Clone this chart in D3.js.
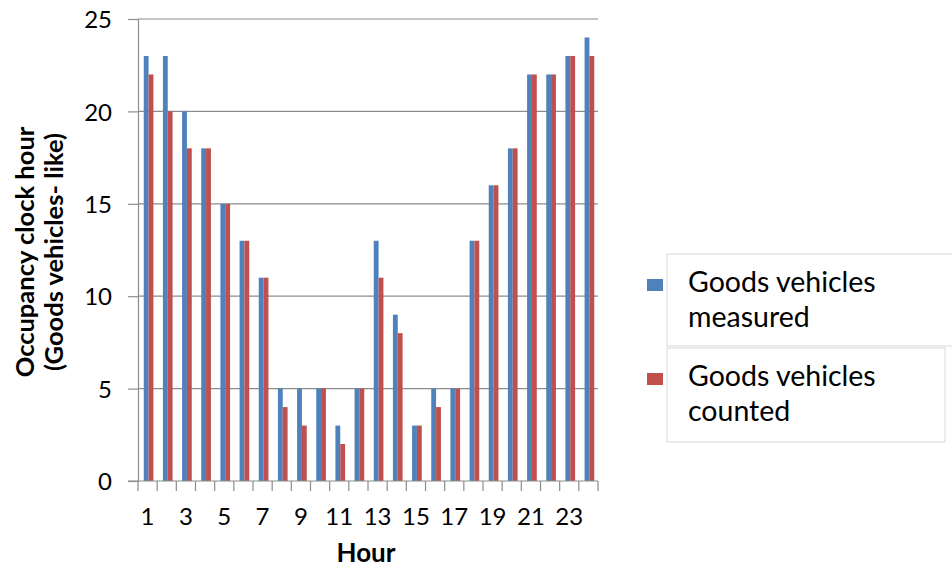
<!DOCTYPE html>
<html>
<head>
<meta charset="utf-8">
<script src="https://cdn.jsdelivr.net/npm/d3@7"></script>
<style>
  html, body { margin: 0; padding: 0; background: #fff; }
  svg { display: block; }
  text { font-family: Lato, "Liberation Sans", sans-serif; fill: #000; }
</style>
</head>
<body>
<svg id="chart" width="952" height="569"></svg>
<script>
// Hourly occupancy of goods-vehicle-like traffic
const hours = d3.range(1, 25);
const measured = [23, 23, 20, 18, 15, 13, 11, 5, 5, 5, 3, 5, 13, 9, 3, 5, 5, 13, 16, 18, 22, 22, 23, 24];
const counted  = [22, 20, 18, 18, 15, 13, 11, 4, 3, 5, 2, 5, 11, 8, 3, 4, 5, 13, 16, 18, 22, 22, 23, 23];
const seriesNames = ["Goods vehicles measured", "Goods vehicles counted"];
const seriesColors = ["#4F81BD", "#C0504D"];
const yTicks = [0, 5, 10, 15, 20, 25];
const xTickLabels = [1, 3, 5, 7, 9, 11, 13, 15, 17, 19, 21, 23];

const svg = d3.select("#chart");
const plot = { left: 138, right: 598, top: 19, bottom: 481 };

const x = d3.scaleBand().domain(hours).range([plot.left, plot.right]).paddingInner(0).paddingOuter(0);
const inner = d3.scaleBand().domain([0, 1]).range([0, x.bandwidth()]).paddingInner(0).paddingOuter(0.98);
const y = d3.scaleLinear().domain([0, 25]).range([plot.bottom, plot.top]);

const gridColor = "#8c8c8c";

// horizontal gridlines
svg.append("g")
  .selectAll("line")
  .data(yTicks.filter(d => d > 0))
  .join("line")
  .attr("x1", plot.left).attr("x2", plot.right)
  .attr("y1", d => y(d)).attr("y2", d => y(d))
  .attr("stroke", gridColor).attr("stroke-width", 1.2);

// bars
const rows = hours.map((h, i) => ({ h, vals: [measured[i], counted[i]] }));
const groups = svg.append("g").selectAll("g")
  .data(rows).join("g")
  .attr("transform", d => `translate(${x(d.h) + 1},0)`);
groups.selectAll("rect")
  .data(d => d.vals.map((v, k) => ({ v, k })))
  .join("rect")
  .attr("x", d => inner(d.k))
  .attr("width", inner.bandwidth())
  .attr("y", d => y(d.v))
  .attr("height", d => y(0) - y(d.v))
  .attr("fill", d => seriesColors[d.k]);

// y axis
const yAxis = svg.append("g")
  .attr("transform", `translate(${plot.left},0)`)
  .call(d3.axisLeft(y).tickValues(yTicks).tickSize(10).tickPadding(16));
yAxis.select(".domain").attr("stroke", gridColor).attr("stroke-width", 1.2);
yAxis.selectAll(".tick line").attr("stroke", gridColor).attr("stroke-width", 1.2);
yAxis.selectAll(".tick text").style("font-size", "24px").attr("dy", "0.36em");

// x axis: tick marks at category boundaries, labels on odd hours
const xAxisG = svg.append("g").attr("transform", `translate(0,${plot.bottom})`);
xAxisG.append("line")
  .attr("x1", plot.left - 10).attr("x2", plot.right)
  .attr("stroke", gridColor).attr("stroke-width", 1.2);
const bounds = hours.map(h => x(h)).concat([plot.right]);
xAxisG.selectAll("line.tk")
  .data(bounds).join("line").attr("class", "tk")
  .attr("x1", d => d).attr("x2", d => d)
  .attr("y1", 0).attr("y2", 10)
  .attr("stroke", gridColor).attr("stroke-width", 1.2);
xAxisG.selectAll("text")
  .data(xTickLabels).join("text")
  .attr("x", d => x(d) + x.bandwidth() / 2)
  .attr("y", 44)
  .attr("text-anchor", "middle")
  .style("font-size", "24px")
  .text(d => d);

// axis titles
svg.append("text")
  .attr("x", 366).attr("y", 562)
  .attr("text-anchor", "middle")
  .style("font-size", "26px").style("font-weight", "bold")
  .text("Hour");

const yTitle = svg.append("text")
  .attr("transform", "translate(34,252) rotate(-90)")
  .attr("text-anchor", "middle")
  .style("font-size", "25.5px").style("font-weight", "bold");
yTitle.append("tspan").attr("x", 0).attr("dy", 0).text("Occupancy clock hour");
yTitle.append("tspan").attr("x", 0).attr("dy", 29).text("(Goods vehicles- like)");

// legend
const legendRows = [
  { name: seriesNames[0], color: seriesColors[0], lines: ["Goods vehicles", "measured"], box: [667, 254, 290, 92] },
  { name: seriesNames[1], color: seriesColors[1], lines: ["Goods vehicles", "counted"], box: [667, 348, 278, 94] }
];
const lg = svg.append("g").selectAll("g").data(legendRows).join("g");
lg.append("rect")
  .attr("x", d => d.box[0]).attr("y", d => d.box[1])
  .attr("width", d => d.box[2]).attr("height", d => d.box[3])
  .attr("fill", "#fff").attr("stroke", "#d9d9d9").attr("stroke-width", 1);
lg.append("rect")
  .attr("x", 647).attr("y", d => d.box[1] + 25)
  .attr("width", 16).attr("height", 12)
  .attr("fill", d => d.color);
lg.each(function(d) {
  const t = d3.select(this).append("text")
    .attr("x", 688).attr("y", d.box[1] + 38)
    .style("font-size", "28.5px");
  d.lines.forEach((ln, i) => t.append("tspan").attr("x", 688).attr("dy", i ? 35 : 0).text(ln));
});
</script>
</body>
</html>
